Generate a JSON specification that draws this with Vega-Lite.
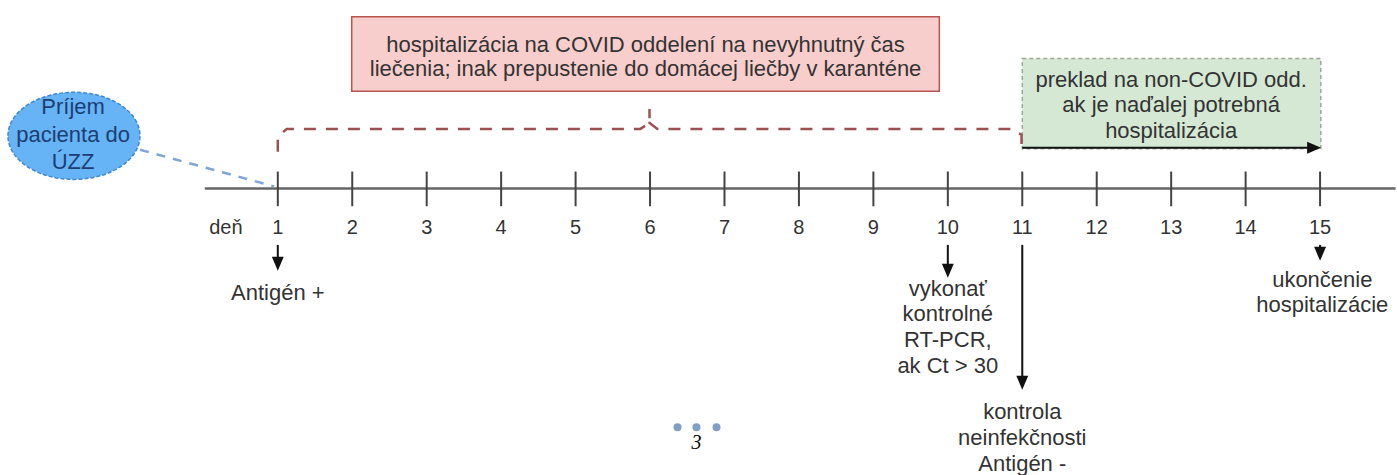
{
  "$schema": "https://vega.github.io/schema/vega-lite/v6.json",
  "width": 1397,
  "height": 475,
  "autosize": {"type": "fit", "contains": "padding"},
  "padding": 0,
  "background": "white",
  "config": {
    "view": {"stroke": null},
    "text": {"font": "Liberation Sans", "fontSize": 22, "fill": "#333333", "baseline": "middle", "align": "center"}
  },
  "encoding": {
    "x": {"field": "d", "type": "quantitative", "scale": {"domain": [-2.7315, 16.02], "nice": false, "zero": false}, "axis": null},
    "y": {"field": "v", "type": "quantitative", "scale": {"domain": [0, 475], "reverse": true, "nice": false, "zero": false}, "axis": null}
  },
  "layer": [
    {
      "data": {"values": [{"d": 1.993, "d2": 9.886, "v": 17, "v2": 92}]},
      "mark": {"type": "rect", "fill": "#f8cecc", "stroke": "#b85450", "strokeWidth": 1.5},
      "encoding": {"x2": {"field": "d2"}, "y2": {"field": "v2"}}
    },
    {
      "data": {"values": [{"d": 11, "d2": 15.01, "v": 59, "v2": 150}]},
      "mark": {"type": "rect", "fill": "#d5e8d4", "stroke": "#9aa89a", "strokeWidth": 1.5, "strokeDash": [4, 3]},
      "encoding": {"x2": {"field": "d2"}, "y2": {"field": "v2"}}
    },
    {
      "data": {"values": [{"d": 0.02, "d2": 16.015, "v": 190}]},
      "mark": {"type": "rule", "color": "#666666", "strokeWidth": 2.5},
      "encoding": {"x2": {"field": "d2"}}
    },
    {
      "data": {"values": [
        {"d": 1, "v": 173, "v2": 208}, {"d": 2, "v": 173, "v2": 208}, {"d": 3, "v": 173, "v2": 208},
        {"d": 4, "v": 173, "v2": 208}, {"d": 5, "v": 173, "v2": 208}, {"d": 6, "v": 173, "v2": 208},
        {"d": 7, "v": 173, "v2": 208}, {"d": 8, "v": 173, "v2": 208}, {"d": 9, "v": 173, "v2": 208},
        {"d": 10, "v": 173, "v2": 208}, {"d": 11, "v": 173, "v2": 208}, {"d": 12, "v": 173, "v2": 208},
        {"d": 13, "v": 173, "v2": 208}, {"d": 14, "v": 173, "v2": 208}, {"d": 15, "v": 173, "v2": 208}
      ]},
      "mark": {"type": "rule", "color": "#444444", "strokeWidth": 2},
      "encoding": {"y2": {"field": "v2"}}
    },
    {
      "data": {"values": [
        {"d": 0.302, "v": 230, "t": "deň"},
        {"d": 1, "v": 230, "t": "1"}, {"d": 2, "v": 230, "t": "2"}, {"d": 3, "v": 230, "t": "3"},
        {"d": 4, "v": 230, "t": "4"}, {"d": 5, "v": 230, "t": "5"}, {"d": 6, "v": 230, "t": "6"},
        {"d": 7, "v": 230, "t": "7"}, {"d": 8, "v": 230, "t": "8"}, {"d": 9, "v": 230, "t": "9"},
        {"d": 10, "v": 230, "t": "10"}, {"d": 11, "v": 230, "t": "11"}, {"d": 12, "v": 230, "t": "12"},
        {"d": 13, "v": 230, "t": "13"}, {"d": 14, "v": 230, "t": "14"}, {"d": 15, "v": 230, "t": "15"}
      ]},
      "mark": {"type": "text", "fontSize": 20},
      "encoding": {"text": {"field": "t"}}
    },
    {
      "data": {"values": [
        {"o": 1, "d": 1, "v": 153}, {"o": 2, "d": 1, "v": 138}, {"o": 3, "d": 1.12, "v": 130},
        {"o": 4, "d": 5.87, "v": 130}, {"o": 5, "d": 5.993, "v": 124}, {"o": 6, "d": 5.993, "v": 110},
        {"o": 7, "d": 5.993, "v": 124}, {"o": 8, "d": 6.1, "v": 130}, {"o": 9, "d": 10.87, "v": 130},
        {"o": 10, "d": 10.99, "v": 136}, {"o": 11, "d": 10.99, "v": 146}
      ]},
      "mark": {"type": "line", "color": "#9c5050", "strokeWidth": 2.5, "strokeDash": [12, 10]},
      "encoding": {"order": {"field": "o", "type": "quantitative"}}
    },
    {
      "data": {"values": [{"d": -0.85, "v": 151, "d2": 0.95, "v2": 188}]},
      "mark": {"type": "rule", "color": "#7ea6d8", "strokeWidth": 2.5, "strokeDash": [9, 8]},
      "encoding": {"x2": {"field": "d2"}, "y2": {"field": "v2"}}
    },
    {
      "data": {"values": [{"d": -1.738, "v": 137}]},
      "mark": {"type": "point", "shape": "M-1,0A1,0.66,0,1,1,1,0A1,0.66,0,1,1,-1,0Z", "size": 17424, "filled": true, "fill": "#66b3f5", "stroke": "#3f86d6", "strokeWidth": 1.5, "strokeDash": [4, 2], "opacity": 1, "fillOpacity": 1, "strokeOpacity": 1},
      "encoding": {}
    },
    {
      "data": {"values": [
        {"d": -1.75, "v": 108, "t": "Príjem"},
        {"d": -1.75, "v": 136, "t": "pacienta do"},
        {"d": -1.75, "v": 163, "t": "ÚZZ"}
      ]},
      "mark": {"type": "text", "fill": "#1c3f73"},
      "encoding": {"text": {"field": "t"}}
    },
    {
      "data": {"values": [
        {"d": 1, "v": 247, "d2": 1, "v2": 262},
        {"d": 10, "v": 247, "d2": 10, "v2": 269},
        {"d": 11, "v": 247, "d2": 11, "v2": 382},
        {"d": 15, "v": 247, "d2": 15, "v2": 250},
        {"d": 11, "v": 149, "d2": 14.85, "v2": 149}
      ]},
      "mark": {"type": "rule", "color": "#111111", "strokeWidth": 2},
      "encoding": {"x2": {"field": "d2"}, "y2": {"field": "v2"}}
    },
    {
      "data": {"values": [{"d": 1, "v": 266}, {"d": 10, "v": 273}, {"d": 11, "v": 386}, {"d": 15, "v": 256}]},
      "mark": {"type": "point", "shape": "M-0.85,-1L0.85,-1L0,1Z", "size": 196, "filled": true, "fill": "#111111", "stroke": null, "opacity": 1},
      "encoding": {}
    },
    {
      "data": {"values": [{"d": 14.92, "v": 149}]},
      "mark": {"type": "point", "shape": "M-1,-0.85L-1,0.85L1,0Z", "size": 196, "filled": true, "fill": "#111111", "stroke": null, "opacity": 1},
      "encoding": {}
    },
    {
      "data": {"values": [
        {"d": 5.94, "v": 45, "t": "hospitalizácia na COVID oddelení na nevyhnutný čas"},
        {"d": 5.94, "v": 70, "t": "liečenia; inak prepustenie do domácej liečby v karanténe"},
        {"d": 13.0, "v": 81, "t": "preklad na non-COVID odd."},
        {"d": 13.0, "v": 106, "t": "ak je naďalej potrebná"},
        {"d": 13.0, "v": 132, "t": "hospitalizácia"},
        {"d": 1, "v": 295, "t": "Antigén +"},
        {"d": 10, "v": 291, "t": "vykonať"},
        {"d": 10, "v": 317, "t": "kontrolné"},
        {"d": 10, "v": 343, "t": "RT-PCR,"},
        {"d": 10, "v": 369, "t": "ak Ct > 30"},
        {"d": 11, "v": 415, "t": "kontrola"},
        {"d": 11, "v": 442, "t": "neinfekčnosti"},
        {"d": 11, "v": 468, "t": "Antigén -"},
        {"d": 15.03, "v": 282, "t": "ukončenie"},
        {"d": 15.03, "v": 308, "t": "hospitalizácie"}
      ]},
      "mark": {"type": "text"},
      "encoding": {"text": {"field": "t"}}
    },
    {
      "data": {"values": [{"d": 6.369, "v": 431}, {"d": 6.624, "v": 431}, {"d": 6.893, "v": 431}]},
      "mark": {"type": "point", "shape": "circle", "size": 64, "filled": true, "fill": "#7f9fc8", "stroke": null, "opacity": 1},
      "encoding": {}
    },
    {
      "data": {"values": [{"d": 6.624, "v": 447, "t": "3"}]},
      "mark": {"type": "text", "font": "Liberation Serif", "fontStyle": "italic", "fontSize": 20, "fill": "#000000"},
      "encoding": {"text": {"field": "t"}}
    }
  ]
}
